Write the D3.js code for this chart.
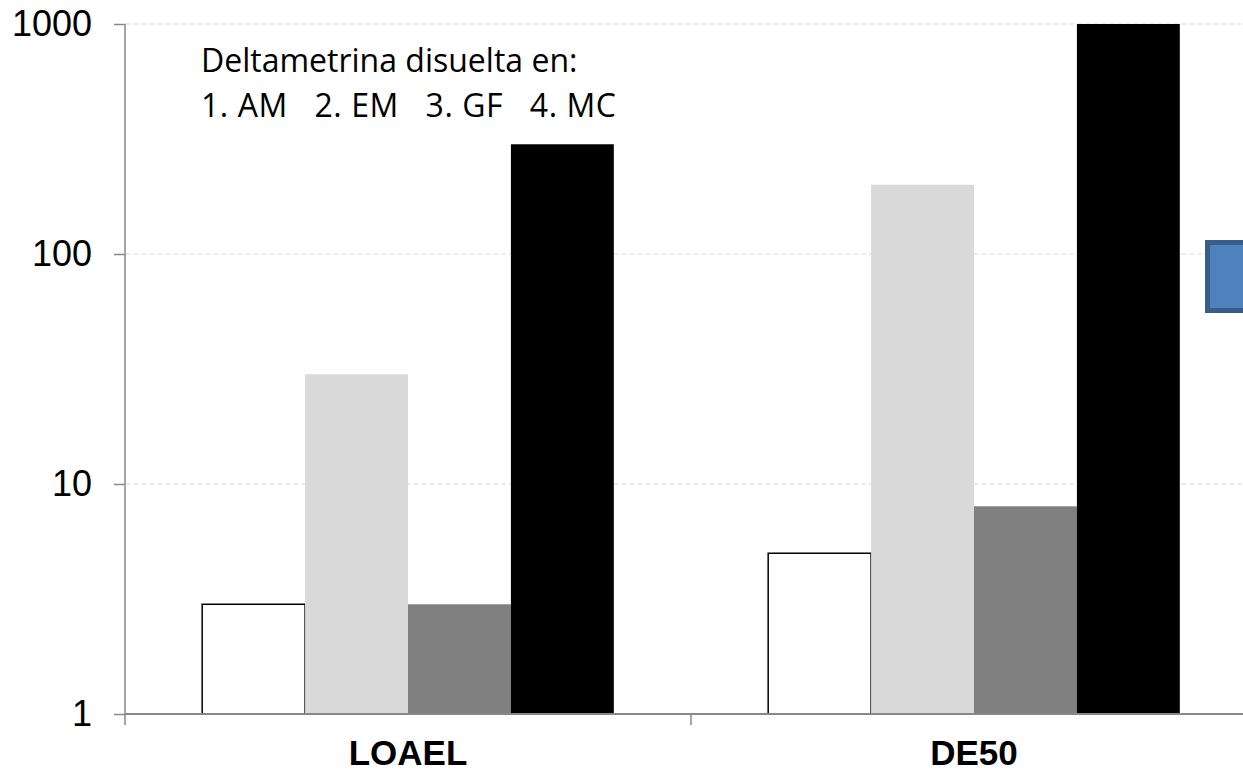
<!DOCTYPE html>
<html>
<head>
<meta charset="utf-8">
<script src="https://cdn.jsdelivr.net/npm/d3@7"></script>
<style>
  body { margin: 0; background: #fff; }
  #chart svg { display: block; }
</style>
</head>
<body>
<div id="chart"></div>
<script>
const categories = ["LOAEL", "DE50"];
const series = ["AM", "EM", "GF", "MC"];
const valuesAM = [3, 5];
const valuesEM = [30, 200];
const valuesGF = [3, 8];
const valuesMC = [300, 1000];
const yTicks = [1, 10, 100, 1000];
const noteLines = ["Deltametrina disuelta en:", "1. AM   2. EM   3. GF   4. MC"];

const colors = {AM: "#ffffff", EM: "#d9d9d9", GF: "#808080", MC: "#000000"};

let dim = {width: 1243, height: 773};
let plot = {left: 125, right: 1257, top: 24, bottom: 714};

let svg = d3.select('#chart').append('svg')
    .attr('width', dim.width)
    .attr('height', dim.height);

let rows = categories.map((c, i) => ({
  cat: c,
  AM: valuesAM[i], EM: valuesEM[i], GF: valuesGF[i], MC: valuesMC[i]
}));

let scaleY = d3.scaleLog()
    .domain([1, 1000])
    .range([plot.bottom, plot.top]);

let scaleX = d3.scaleBand()
    .domain(categories)
    .range([plot.left, plot.right])
    .padding(0);

let scaleS = d3.scaleBand()
    .domain(series)
    .range([0, scaleX.bandwidth()])
    .paddingInner(0)
    .paddingOuter(0.75);

// gridlines
svg.append('g')
  .selectAll('line')
  .data(yTicks.filter(d => d > 1))
  .enter().append('line')
    .attr('x1', plot.left).attr('x2', dim.width)
    .attr('y1', d => scaleY(d)).attr('y2', d => scaleY(d))
    .attr('stroke', '#d9d9d9')
    .attr('stroke-width', 1.2)
    .attr('stroke-dasharray', '5,3');

// bars
svg.append('g')
  .selectAll('g')
  .data(rows)
  .enter().append('g')
    .attr('transform', d => `translate(${scaleX(d.cat)},0)`)
  .selectAll('rect')
  .data(d => series.map(s => ({s: s, v: d[s]})))
  .enter().append('rect')
    .attr('x', d => scaleS(d.s))
    .attr('y', d => scaleY(d.v))
    .attr('width', scaleS.bandwidth())
    .attr('height', d => scaleY(1) - scaleY(d.v))
    .attr('fill', d => colors[d.s])
    .attr('stroke', d => d.s === 'AM' ? '#000' : 'none')
    .attr('stroke-width', 1.5);

// y axis
let axisY = d3.axisLeft(scaleY)
    .tickValues(yTicks)
    .tickFormat(d3.format('d'))
    .tickSizeOuter(0)
    .tickSize(11)
    .tickPadding(22);

let gy = svg.append('g')
    .attr('transform', `translate(${plot.left},0)`)
    .call(axisY);
gy.select('.domain').remove();
gy.selectAll('.tick line').attr('stroke', '#888').attr('stroke-width', 1.5);
gy.selectAll('.tick text')
    .attr('font-family', 'Liberation Sans, Arial, sans-serif')
    .attr('font-size', 36)
    .attr('fill', '#000');
gy.append('line')
    .attr('x1', 0).attr('x2', 0)
    .attr('y1', plot.top).attr('y2', plot.bottom + 11)
    .attr('stroke', '#888').attr('stroke-width', 1.5);

// x axis
let gx = svg.append('g')
    .attr('transform', `translate(0,${plot.bottom})`);
gx.append('line')
    .attr('x1', plot.left).attr('x2', dim.width)
    .attr('stroke', '#888').attr('stroke-width', 2);
gx.selectAll('.sep')
  .data(categories.slice(1))
  .enter().append('line')
    .attr('x1', d => scaleX(d)).attr('x2', d => scaleX(d))
    .attr('y1', 0).attr('y2', 11)
    .attr('stroke', '#888').attr('stroke-width', 1.5);
gx.selectAll('text')
  .data(categories)
  .enter().append('text')
    .attr('x', d => scaleX(d) + scaleS('AM') + scaleS.bandwidth() * 2)
    .attr('y', 51)
    .attr('text-anchor', 'middle')
    .attr('font-family', 'Liberation Sans, Arial, sans-serif')
    .attr('font-weight', 'bold')
    .attr('font-size', 35)
    .text(d => d);

// note
svg.append('g')
  .selectAll('text')
  .data(noteLines)
  .enter().append('text')
    .attr('x', 201)
    .attr('y', (d, i) => 72 + i * 45)
    .attr('font-family', 'Open Sans, sans-serif')
    .attr('font-size', 32)
    .style('white-space', 'pre')
    .attr('textLength', (d, i) => i === 1 ? 415 : null)
    .attr('lengthAdjust', 'spacing')
    .text(d => d);

// cut-off legend box on the right
svg.append('rect')
    .attr('x', 1207.5).attr('y', 242.5)
    .attr('width', 60).attr('height', 68)
    .attr('fill', '#4f81bd')
    .attr('stroke', '#385d8a')
    .attr('stroke-width', 5);
</script>
</body>
</html>
